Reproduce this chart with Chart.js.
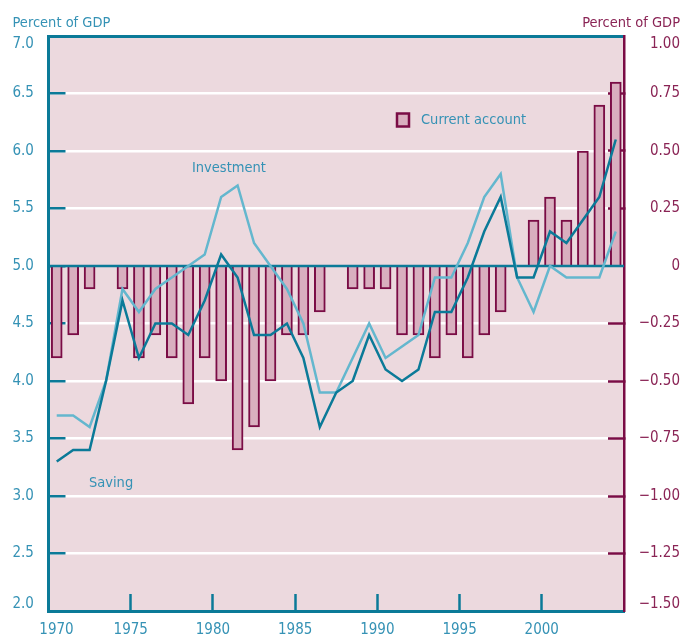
<!DOCTYPE html>
<html>
<head>
<meta charset="utf-8">
<title>Saving, investment and current account</title>
<script src="https://cdn.jsdelivr.net/npm/chart.js@4.4.1/dist/chart.umd.min.js"></script>
<style>
  html, body { margin: 0; padding: 0; background: #fff; }
  #chart { display: block; }
</style>
</head>
<body>
<canvas id="chart" width="683" height="640"></canvas>
<script>
// Annual data, 1970-2004 (plotted at mid-year)
const years = [1970, 1971, 1972, 1973, 1974, 1975, 1976, 1977, 1978, 1979,
               1980, 1981, 1982, 1983, 1984, 1985, 1986, 1987, 1988, 1989,
               1990, 1991, 1992, 1993, 1994, 1995, 1996, 1997, 1998, 1999,
               2000, 2001, 2002, 2003, 2004];

// Percent of GDP, left axis
const saving = [3.3, 3.4, 3.4, 4.0, 4.7, 4.2, 4.5, 4.5, 4.4, 4.7,
                5.1, 4.9, 4.4, 4.4, 4.5, 4.2, 3.6, 3.9, 4.0, 4.4,
                4.1, 4.0, 4.1, 4.6, 4.6, 4.9, 5.3, 5.6, 4.9, 4.9,
                5.3, 5.2, 5.4, 5.6, 6.1];
const investment = [3.7, 3.7, 3.6, 4.0, 4.8, 4.6, 4.8, 4.9, 5.0, 5.1,
                    5.6, 5.7, 5.2, 5.0, 4.8, 4.5, 3.9, 3.9, 4.2, 4.5,
                    4.2, 4.3, 4.4, 4.9, 4.9, 5.2, 5.6, 5.8, 4.9, 4.6,
                    5.0, 4.9, 4.9, 4.9, 5.3];

// Percent of GDP, right axis
const currentAccount = [-0.4, -0.3, -0.1, 0, -0.1, -0.4, -0.3, -0.4, -0.6, -0.4,
                        -0.5, -0.8, -0.7, -0.5, -0.3, -0.3, -0.2, 0, -0.1, -0.1,
                        -0.1, -0.3, -0.3, -0.4, -0.3, -0.4, -0.3, -0.2, 0, 0.2,
                        0.3, 0.2, 0.5, 0.7, 0.8];

const xTickYears = [1970, 1975, 1980, 1985, 1990, 1995, 2000];

const TEAL = '#0b7a98';
const TEAL_TEXT = '#3592b5';
const LIGHT = '#64b7ce';
const MAROON = '#7a0c45';
const MAROON_TEXT = '#8a2455';
const BAR_FILL = '#d9afbf';
const PLOT_BG = '#ecd9de';
const FONT = "'DejaVu Sans Condensed', 'Liberation Sans Narrow', Roboto, sans-serif";

const pts = arr => years.map((yr, i) => ({ x: yr + 0.5, y: arr[i] }));
const none = 'rgba(0,0,0,0)';

// pink plot background + nudge the end labels inside like the original
const backdrop = {
  id: 'backdrop',
  beforeDraw(chart) {
    const { ctx, chartArea: a } = chart;
    ctx.save();
    ctx.fillStyle = PLOT_BG;
    ctx.fillRect(a.left, a.top, a.right - a.left, a.bottom - a.top);
    ctx.restore();

    const nudge = (scale, fn) => {
      const items = scale.getLabelItems();
      if (!items.length || items._nudged) return;
      fn(items);
      items._nudged = true;
    };
    nudge(chart.scales.yL, it => {
      it[0].options.translation[1] -= 7;
      it[it.length - 1].options.translation[1] += 8;
    });
    nudge(chart.scales.yR, it => {
      it[0].options.translation[1] -= 7;
      it[it.length - 1].options.translation[1] += 8;
    });
    nudge(chart.scales.x, it => {
      it[0].options.translation[0] += 8;
    });
  }
};

// zero line over the bars, under the lines
const zeroLine = {
  id: 'zeroLine',
  afterDatasetDraw(chart, args) {
    if (args.index !== 2) return;
    const { ctx, chartArea: a } = chart;
    const y = chart.scales.yR.getPixelForValue(0);
    ctx.save();
    ctx.strokeStyle = TEAL;
    ctx.lineWidth = 2.5;
    ctx.beginPath();
    ctx.moveTo(a.left, y);
    ctx.lineTo(a.right, y);
    ctx.stroke();
    ctx.restore();
  }
};

// titles, inline labels and legend
const labels = {
  id: 'labels',
  afterDraw(chart) {
    const { ctx } = chart;
    ctx.save();
    ctx.font = '14.5px ' + FONT;
    ctx.textBaseline = 'alphabetic';
    ctx.fillStyle = TEAL_TEXT;
    ctx.textAlign = 'left';
    ctx.fillText('Percent of GDP', 12.5, 27);
    ctx.fillStyle = MAROON_TEXT;
    ctx.textAlign = 'right';
    ctx.fillText('Percent of GDP', 680, 27);

    ctx.font = '14.5px ' + FONT;
    ctx.textBaseline = 'middle';
    ctx.textAlign = 'left';
    ctx.fillStyle = TEAL_TEXT;
    ctx.fillText('Investment', 192, 168);
    ctx.fillText('Saving', 89, 483);
    ctx.fillText('Current account', 421, 120);

    ctx.fillStyle = BAR_FILL;
    ctx.strokeStyle = MAROON;
    ctx.lineWidth = 2.5;
    ctx.fillRect(397, 113.5, 12, 13);
    ctx.strokeRect(397, 113.5, 12, 13);
    ctx.restore();
  }
};

const tickFont = { family: FONT, size: 15 };

const config = {
  type: 'bar',
  data: {
    datasets: [
      {
        type: 'line',
        label: 'Saving',
        data: pts(saving),
        xAxisID: 'x',
        yAxisID: 'yL',
        borderColor: TEAL,
        borderWidth: 2.5,
        pointRadius: 0,
        tension: 0
      },
      {
        type: 'line',
        label: 'Investment',
        data: pts(investment),
        xAxisID: 'x',
        yAxisID: 'yL',
        borderColor: LIGHT,
        borderWidth: 2.5,
        pointRadius: 0,
        tension: 0
      },
      {
        type: 'bar',
        label: 'Current account',
        data: pts(currentAccount),
        xAxisID: 'x',
        yAxisID: 'yR',
        backgroundColor: BAR_FILL,
        borderColor: MAROON,
        borderWidth: 2,
        borderSkipped: 'start',
        barThickness: 11
      }
    ]
  },
  options: {
    responsive: false,
    animation: false,
    devicePixelRatio: 1,
    layout: { padding: { top: 36, right: 3, bottom: 0, left: 12.5 } },
    plugins: {
      legend: { display: false },
      tooltip: { enabled: false }
    },
    scales: {
      x: {
        type: 'linear',
        position: 'bottom',
        min: 1970,
        max: 2005,
        offset: false,
        afterFit: s => { s.height = 29; },
        ticks: {
          stepSize: 5,
          autoSkip: false,
          maxRotation: 0,
          padding: 27,
          color: TEAL_TEXT,
          font: tickFont,
          callback: v => xTickYears.includes(v) ? String(v) : ''
        },
        grid: {
          offset: false,
          drawOnChartArea: false,
          tickLength: -17,
          tickWidth: 2.5,
          tickColor: c => (c.tick && (c.tick.value === 1970 || c.tick.value === 2005)) ? none : TEAL
        },
        border: { color: TEAL, width: 3 }
      },
      yL: {
        type: 'linear',
        position: 'left',
        min: 2,
        max: 7,
        afterFit: s => { s.width = 36; },
        ticks: {
          stepSize: 0.5,
          padding: 0,
          crossAlign: 'far',
          color: TEAL_TEXT,
          font: tickFont,
          callback: v => v.toFixed(1)
        },
        grid: {
          color: c => {
            const v = c.tick ? c.tick.value : null;
            if (v === 7) return TEAL;
            if (v === 5 || v === 2) return none;
            return '#ffffff';
          },
          lineWidth: c => (c.tick && c.tick.value === 7) ? 3 : 2.5,
          tickLength: -17,
          tickWidth: 2.5,
          tickColor: TEAL
        },
        border: { color: TEAL, width: 3 }
      },
      yR: {
        type: 'linear',
        position: 'right',
        min: -1.5,
        max: 1,
        afterFit: s => { s.width = 56; },
        ticks: {
          stepSize: 0.25,
          crossAlign: 'far',
          color: MAROON_TEXT,
          font: tickFont,
          callback: v => v === 0 ? '0' : (v < 0 ? '\u2212' + Math.abs(v).toFixed(2) : v.toFixed(2))
        },
        grid: {
          drawOnChartArea: false,
          tickLength: -16,
          tickWidth: 2.5,
          tickColor: c => {
            const v = c.tick ? c.tick.value : null;
            return (v === 0 || v === 1 || v === -1.5) ? none : MAROON;
          }
        },
        border: { color: MAROON, width: 2.5 }
      }
    }
  },
  plugins: [backdrop, zeroLine, labels]
};

window.onload = function() {
  const ctx = document.getElementById('chart').getContext('2d');
  new Chart(ctx, config);
};
</script>
</body>
</html>
